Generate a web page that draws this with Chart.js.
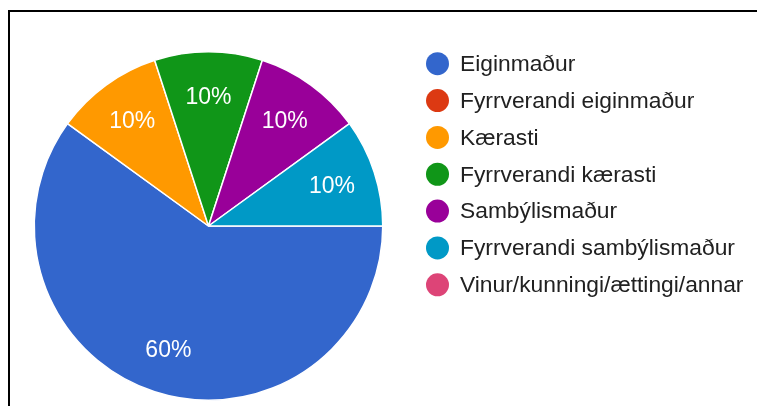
<!DOCTYPE html>
<html>
<head>
<meta charset="utf-8">
<script src="https://cdn.jsdelivr.net/npm/chart.js@4/dist/chart.umd.min.js"></script>
<style>
  html, body { margin: 0; padding: 0; background: #fff; overflow: hidden; }
  #wrap { position: relative; width: 757px; height: 406px; }
  #frame { position: absolute; left: 8px; top: 10px; width: 900px; height: 600px;
           border: 2px solid #000; box-sizing: border-box; }
  canvas { position: absolute; left: 0; top: 0; }
</style>
</head>
<body>
<div id="wrap">
  <div id="frame"></div>
  <canvas id="c" width="757" height="406"></canvas>
</div>
<script>
const categories = [
  "Eiginmaður",
  "Fyrrverandi eiginmaður",
  "Kærasti",
  "Fyrrverandi kærasti",
  "Sambýlismaður",
  "Fyrrverandi sambýlismaður",
  "Vinur/kunningi/ættingi/annar"
];
const values = [60, 0, 10, 10, 10, 10, 0];
const colors = ["#3366cc", "#dc3912", "#ff9900", "#109618", "#990099", "#0099c6", "#dd4477"];

const FONT = '"Liberation Sans", Arial, sans-serif';

const sliceLabels = {
  id: 'sliceLabels',
  afterDatasetsDraw(chart) {
    const ctx = chart.ctx;
    const meta = chart.getDatasetMeta(0);
    const ds = chart.data.datasets[0].data;
    const total = ds.reduce((a, b) => a + b, 0);
    ctx.save();
    ctx.fillStyle = '#ffffff';
    ctx.font = '23px ' + FONT;
    ctx.textAlign = 'center';
    ctx.textBaseline = 'middle';
    meta.data.forEach((arc, i) => {
      if (!ds[i]) return;
      const p = arc.getProps(['x', 'y', 'startAngle', 'endAngle', 'outerRadius'], true);
      const mid = (p.startAngle + p.endAngle) / 2;
      const d = p.outerRadius * 0.745;
      const x = p.x + Math.cos(mid) * d;
      const y = p.y + Math.sin(mid) * d;
      ctx.fillText(Math.round(ds[i] / total * 100) + '%', x, y + 1);
    });
    ctx.restore();
  }
};

const sideLegend = {
  id: 'sideLegend',
  afterDraw(chart) {
    const ctx = chart.ctx;
    const labels = chart.data.labels;
    const bg = chart.data.datasets[0].backgroundColor;
    ctx.save();
    ctx.font = '22.8px ' + FONT;
    ctx.textBaseline = 'middle';
    ctx.textAlign = 'left';
    labels.forEach((lab, i) => {
      const cy = 63.7 + i * 36.85;
      ctx.beginPath();
      ctx.fillStyle = bg[i];
      ctx.arc(437.5, cy, 11.5, 0, Math.PI * 2);
      ctx.fill();
      ctx.fillStyle = '#212121';
      ctx.fillText(lab, 460, cy + 1);
    });
    ctx.restore();
  }
};

new Chart(document.getElementById('c'), {
  type: 'pie',
  data: {
    labels: categories,
    datasets: [{
      data: values,
      backgroundColor: colors,
      borderColor: '#ffffff',
      borderWidth: 1.5
    }]
  },
  options: {
    responsive: false,
    devicePixelRatio: 1,
    animation: false,
    rotation: 90,
    layout: { padding: { left: 33.5, right: 373.5, top: 51, bottom: 5 } },
    plugins: {
      legend: { display: false },
      tooltip: { enabled: false }
    }
  },
  plugins: [sliceLabels, sideLegend]
});
</script>
</body>
</html>
